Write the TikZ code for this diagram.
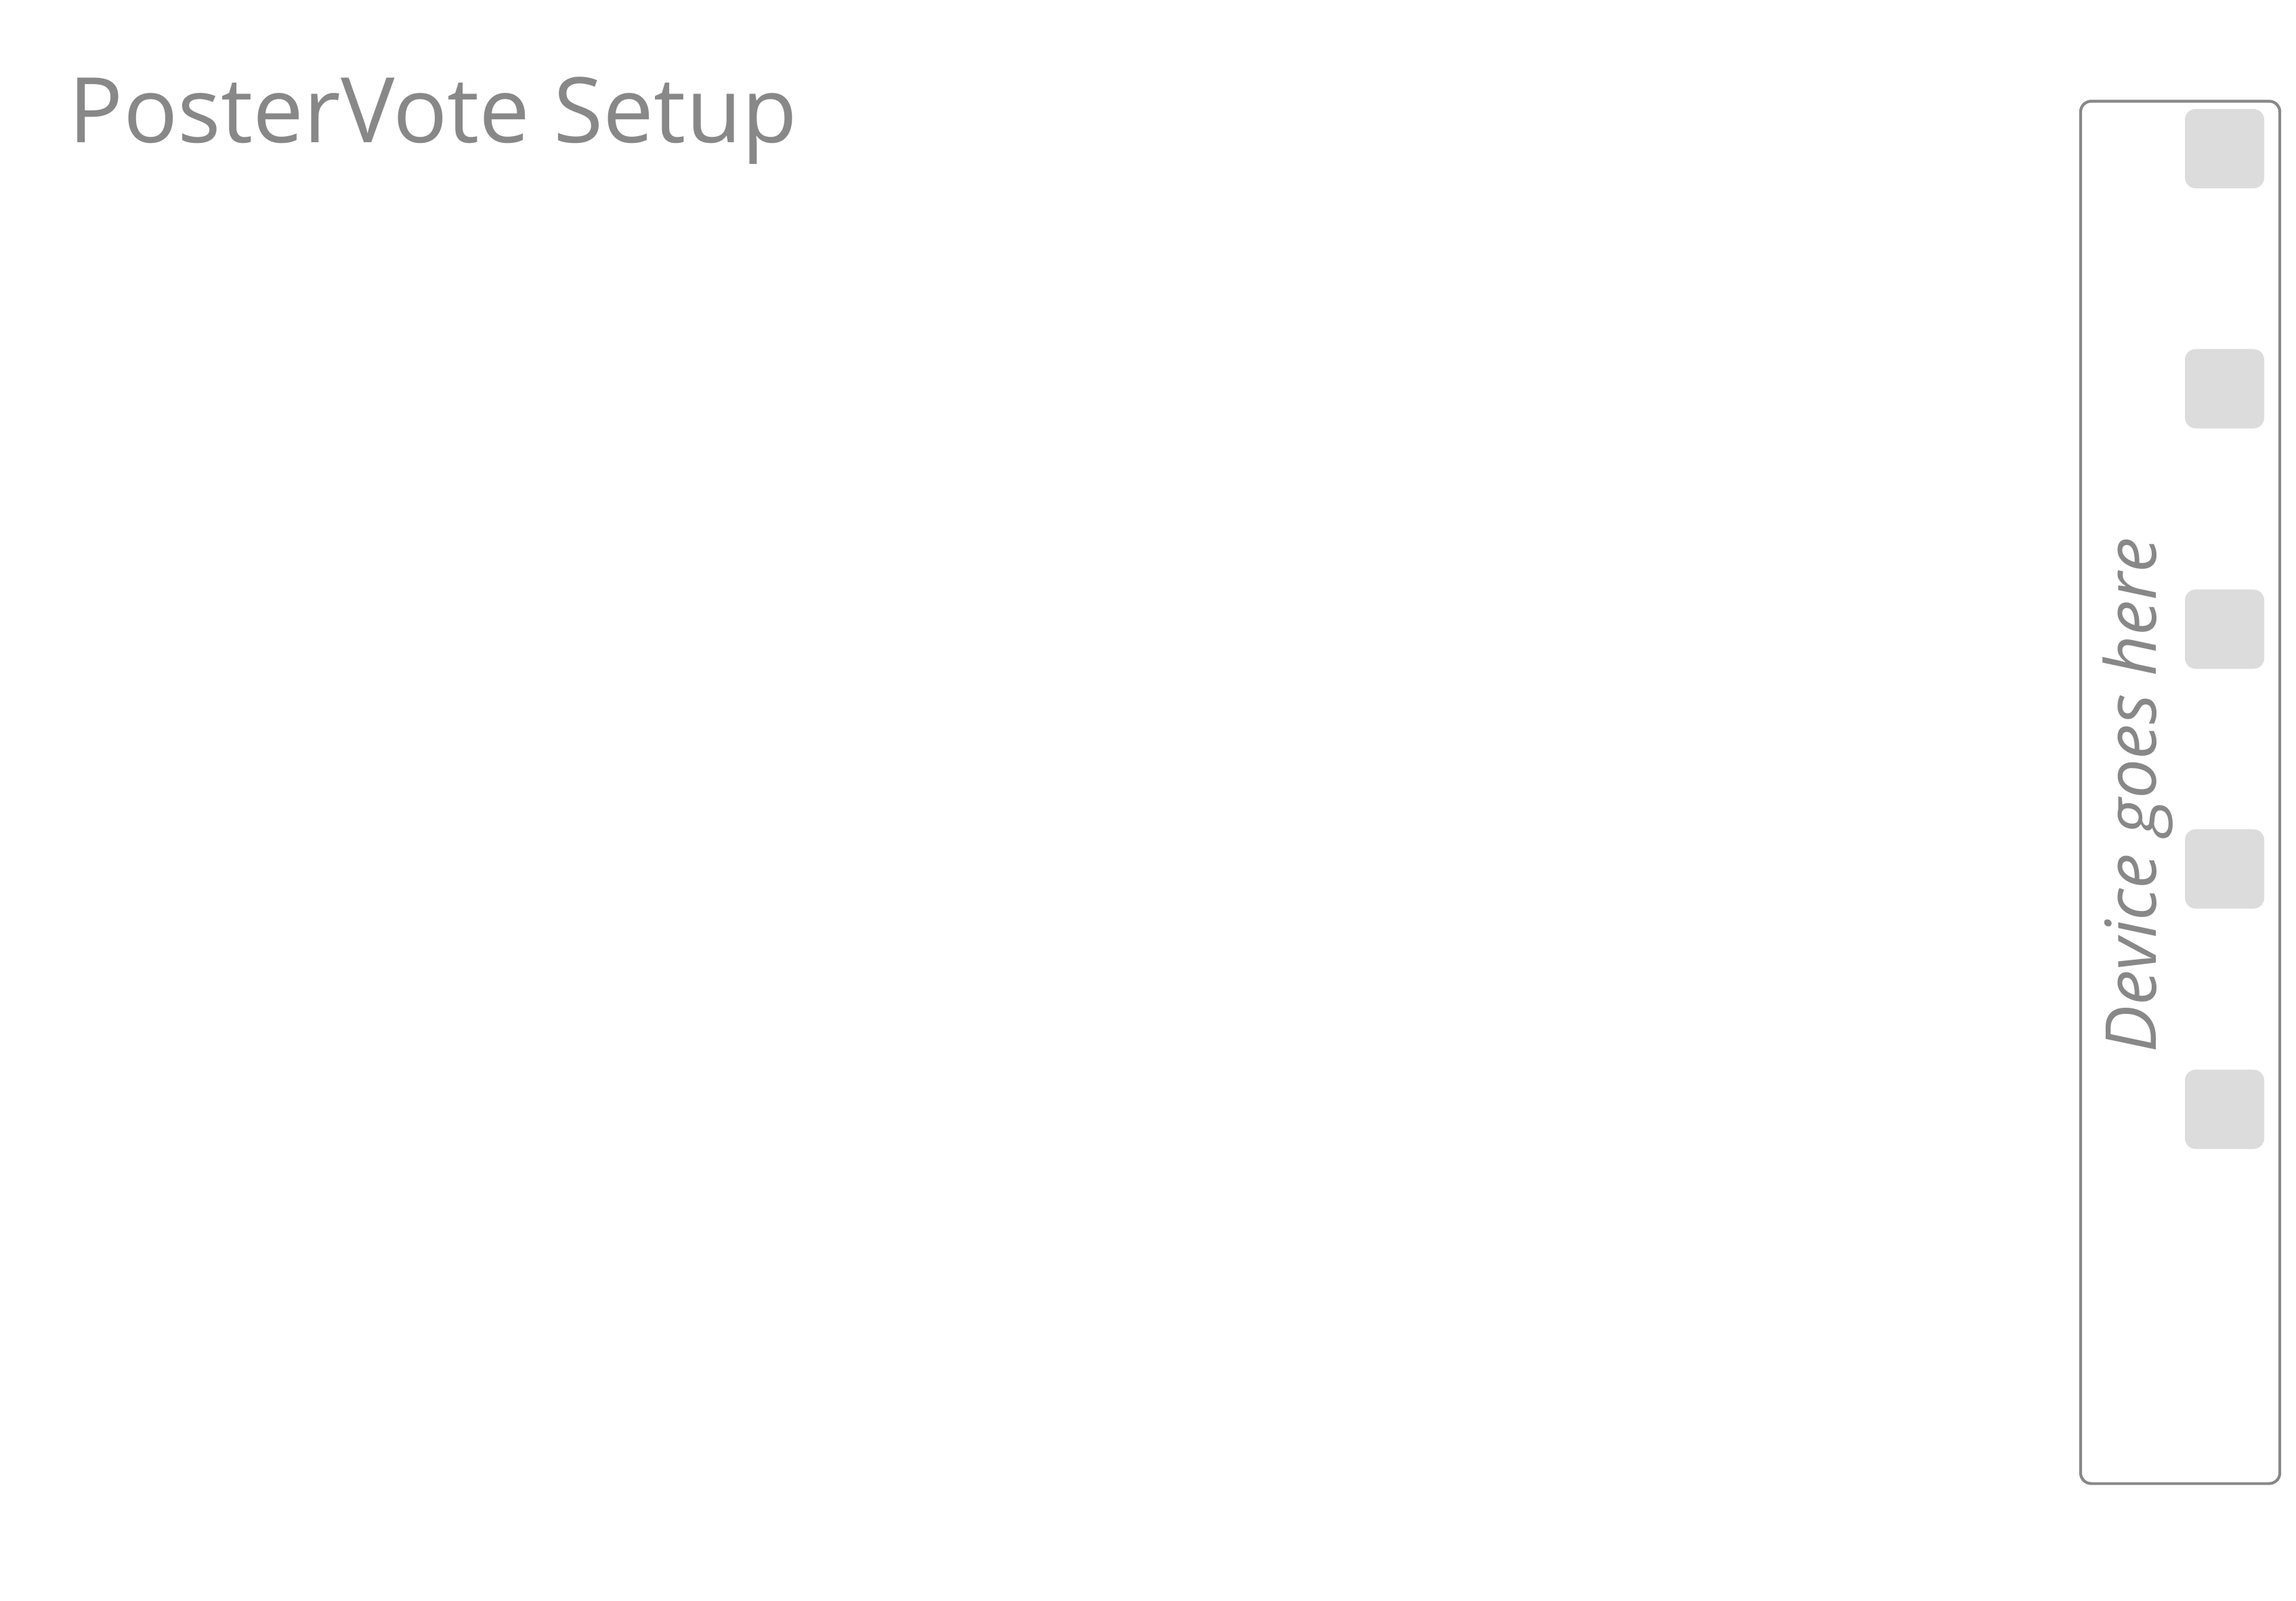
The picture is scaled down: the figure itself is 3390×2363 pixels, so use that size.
\documentclass[tikz,border=0pt]{standalone}
\usepackage{fontspec}
\setmainfont{Open Sans}
\usepackage{xcolor}
\usetikzlibrary{positioning}

\definecolor{linegray}{HTML}{888888}
\definecolor{buttongray}{HTML}{DCDCDC}

\begin{document}
\begin{tikzpicture}[x=0.01cm, y=-0.01cm]
    % Styles
    \tikzstyle{device} = [rectangle, draw=linegray, line width=1.2pt, rounded corners=4.5pt, minimum width=2.94cm, minimum height=20.4cm, inner sep=0pt]
    \tikzstyle{button} = [rectangle, fill=buttongray, rounded corners=4.5pt, minimum size=1.17cm, inner sep=0pt]
    \tikzstyle{title} = [text=linegray, inner sep=0pt, font=\fontsize{38}{46}\selectfont]
    \tikzstyle{label} = [text=linegray, inner sep=0pt, font=\fontsize{29.5}{35}\selectfont\itshape]

    \useasboundingbox (0,0) rectangle (3390,2363);

    % Title
    \node [title, anchor=base west] (heading) at (101,210) {PosterVote Setup};

    % Device outline
    \node [device] (board) at (3219,1170) {};
    \node [label, rotate=90, anchor=base] (placeholder) at (3183,1174) {Device goes here};

    % Buttons
    \node [button] (btn1) at (3284.5,219.5) {};
    \node [button] (btn2) at (3284.5,574) {};
    \node [button] (btn3) at (3284.5,929) {};
    \node [button] (btn4) at (3284.5,1283) {};
    \node [button] (btn5) at (3284.5,1638) {};

\end{tikzpicture}
\end{document}
